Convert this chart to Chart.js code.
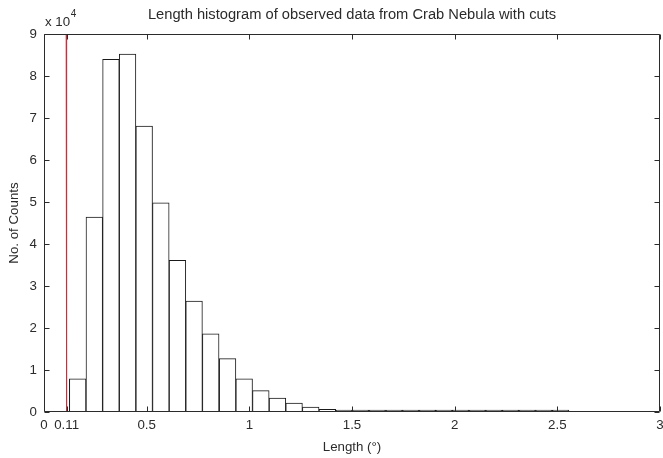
<!DOCTYPE html>
<html>
<head>
<meta charset="utf-8">
<script src="https://cdn.jsdelivr.net/npm/chart.js@4.4.1/dist/chart.umd.min.js"></script>
<style>
  html, body { margin: 0; padding: 0; background: #fff; }
  #c { display: block; }
</style>
</head>
<body>
<canvas id="c" width="663" height="458"></canvas>
<script>
/* Histograma de "Length" (Crab Nebula, con cortes) — 30 bins + línea de corte en 0.11 */

// centros de bin (grados)
const BIN_CENTERS = [0.164, 0.245, 0.326, 0.407, 0.488, 0.569, 0.650, 0.731, 0.812, 0.894,
  0.975, 1.056, 1.137, 1.218, 1.299, 1.380, 1.461, 1.542, 1.623, 1.705,
  1.786, 1.867, 1.948, 2.029, 2.110, 2.191, 2.272, 2.353, 2.434, 2.516];
// cuentas por bin
const COUNTS = [7900, 46400, 84000, 85200, 68100, 49800, 36100, 26400, 18600, 12700,
  7900, 5100, 3300, 2100, 1200, 640, 320, 120, 70, 50,
  35, 25, 18, 14, 10, 8, 6, 5, 4, 3];
// línea de corte (roja) en Length = 0.11
const CUT_X = [0.108, 0.108, 0.111, 0.111];
const CUT_Y = [90000, 43800, 43600, 0];

const X_TICKS = [0, 0.11, 0.5, 1, 1.5, 2, 2.5, 3];
const Y_TICKS = [0, 10000, 20000, 30000, 40000, 50000, 60000, 70000, 80000, 90000];

const INK = "#2b2b2b";
const FONT = "'Liberation Sans', Arial, sans-serif";
const FS = 13.3;   // 10 pt
const FS_T = 14.7; // 11 pt (título)

// ejes estilo MATLAB: caja + ticks hacia dentro + "x 10^4"
const matlabBox = {
  id: "matlabBox",
  afterDatasetsDraw(chart) {
    const { ctx, chartArea: a, scales: { x, y } } = chart;
    const L = Math.round(a.left) + 0.5, R = Math.round(a.right) - 0.5;
    const T = Math.round(a.top) + 0.5, B = Math.round(a.bottom) - 0.5;
    ctx.save();
    ctx.strokeStyle = INK;
    ctx.lineWidth = 1;
    ctx.beginPath();
    ctx.rect(L, T, R - L, B - T);
    X_TICKS.forEach((v) => {
      const px = Math.round(x.getPixelForValue(v)) + 0.5;
      ctx.moveTo(px, B); ctx.lineTo(px, B - 5);
      ctx.moveTo(px, T); ctx.lineTo(px, T + 5);
    });
    Y_TICKS.forEach((v) => {
      const py = Math.round(y.getPixelForValue(v)) + 0.5;
      ctx.moveTo(L, py); ctx.lineTo(L + 5, py);
      ctx.moveTo(R, py); ctx.lineTo(R - 5, py);
    });
    ctx.stroke();

    ctx.fillStyle = INK;
    ctx.textBaseline = "middle";
    ctx.textAlign = "left";
    ctx.font = FS + "px " + FONT;
    ctx.fillText("x 10", 45, 22);
    const w = ctx.measureText("x 10").width;
    ctx.font = "10px " + FONT;
    ctx.fillText("4", 45 + w + 0.5, 14);
    ctx.restore();
  },
};

new Chart(document.getElementById("c"), {
  type: "bar",
  data: {
    datasets: [
      {
        type: "bar",
        data: BIN_CENTERS.map((c, i) => ({ x: c, y: COUNTS[i] })),
        backgroundColor: "#ffffff",
        borderColor: "#1a1a1a",
        borderWidth: 1,
        borderSkipped: false,
        minBarLength: 2,
        barPercentage: 1,
        categoryPercentage: 1,
        order: 2,
      },
      {
        type: "line",
        data: CUT_X.map((cx, i) => ({ x: cx, y: CUT_Y[i] })),
        borderColor: "#cc2f3a",
        borderWidth: 1,
        pointRadius: 0,
        fill: false,
        order: 1,
      },
    ],
  },
  options: {
    responsive: false,
    animation: false,
    layout: { padding: { left: 0, right: 3, top: 0, bottom: 0 } },
    plugins: {
      legend: { display: false },
      tooltip: { enabled: false },
      title: {
        display: true,
        fullSize: false,
        text: "Length histogram of observed data from Crab Nebula with cuts",
        color: INK,
        font: { family: FONT, size: FS_T, weight: "normal" },
        padding: { top: 6.2, bottom: 10.2 },
      },
    },
    scales: {
      x: {
        type: "linear",
        min: 0, max: 3,
        offset: false,
        grid: { display: false, drawTicks: false, offset: false },
        border: { display: false },
        afterBuildTicks: (s) => { s.ticks = X_TICKS.map((v) => ({ value: v })); },
        afterFit: (s) => { s.height = 46; s.paddingLeft = 0; s.paddingRight = 0; },
        ticks: {
          autoSkip: false, maxRotation: 0, minRotation: 0, padding: 5,
          color: INK, font: { family: FONT, size: FS },
          callback: (v) => String(v),
        },
        title: {
          display: true, text: "Length (°)", color: INK,
          font: { family: FONT, size: FS }, padding: { top: 0, bottom: 3 },
        },
      },
      y: {
        min: 0, max: 90000,
        grid: { display: false, drawTicks: false },
        border: { display: false },
        afterBuildTicks: (s) => { s.ticks = Y_TICKS.map((v) => ({ value: v })); },
        afterFit: (s) => { s.width = 44; s.paddingTop = 0; s.paddingBottom = 0; },
        ticks: {
          padding: 7, color: INK, font: { family: FONT, size: FS },
          callback: (v) => String(v / 10000),
        },
        title: {
          display: true, text: "No. of Counts", color: INK,
          font: { family: FONT, size: FS }, padding: { top: 6, bottom: 0 },
        },
      },
    },
  },
  plugins: [matlabBox],
});
</script>
</body>
</html>
